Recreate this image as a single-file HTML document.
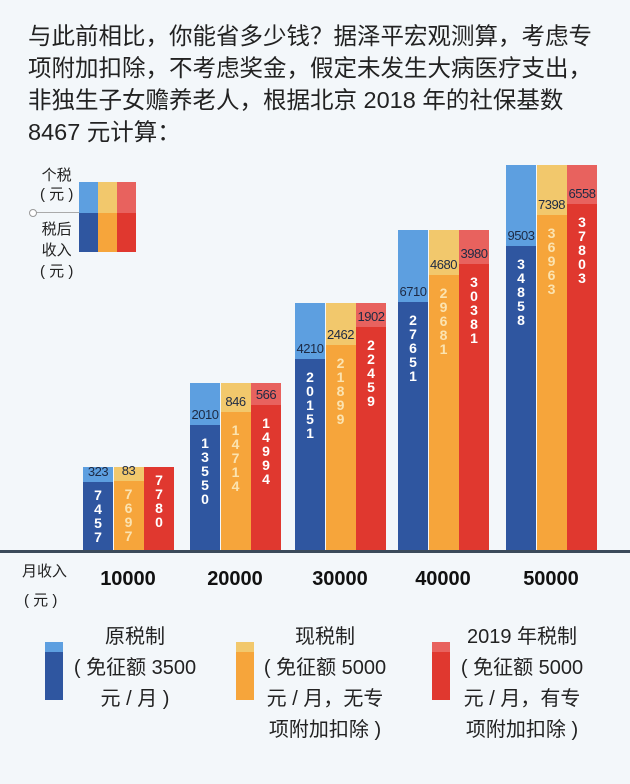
<!DOCTYPE html>
<html><head><meta charset="utf-8"><style>
body{margin:0;width:630px;height:784px;background:#f3f7fa;font-family:"Liberation Sans","Noto Sans CJK SC",sans-serif;position:relative;overflow:hidden;color:#222}
.t{position:absolute;left:28px;top:20px;font-size:23.5px;line-height:32px;color:#222;white-space:nowrap}
.a{position:absolute}
.b{position:absolute;width:30px}
.lab{position:absolute;width:30px;text-align:center;font-size:13px;color:#1d2a44;letter-spacing:-0.5px}
.v{position:absolute;width:30px;text-align:center;font-size:14px;font-weight:bold;line-height:14px;color:#fff}
.xl{position:absolute;font-size:20px;font-weight:bold;top:568px;width:100px;text-align:center;color:#111}
.lg{position:absolute;font-size:20px;line-height:31px;text-align:center;color:#222;white-space:nowrap}
</style></head><body>
<div class="t">与此前相比，你能省多少钱？据泽平宏观测算，考虑专<br>项附加扣除，不考虑奖金，假定未发生大病医疗支出，<br>非独生子女赡养老人，根据北京 2018 年的社保基数<br>8467 元计算：</div>

<div class="a" style="left:40px;top:166px;font-size:15px;line-height:19px;color:#222;text-align:center">个税<br>( 元 )</div>
<div class="a" style="left:40px;top:219px;font-size:15px;line-height:21px;color:#222;text-align:center">税后<br>收入<br>( 元 )</div>
<div class="a" style="left:34px;top:212px;width:45px;height:1px;background:#aaa"></div>
<div class="a" style="left:29px;top:209px;width:6px;height:6px;border:1px solid #999;border-radius:50%;background:#fff"></div>
<div class="a" style="left:79px;top:182px;width:19px;height:31px;background:#5d9fe0"></div>
<div class="a" style="left:79px;top:213px;width:19px;height:39px;background:#2f56a0"></div>
<div class="a" style="left:98px;top:182px;width:19px;height:31px;background:#f2c86c"></div>
<div class="a" style="left:98px;top:213px;width:19px;height:39px;background:#f6a53b"></div>
<div class="a" style="left:117px;top:182px;width:19px;height:31px;background:#e8625e"></div>
<div class="a" style="left:117px;top:213px;width:19px;height:39px;background:#e0382f"></div>

<div id="bars"></div>
<div class="a" style="left:0;top:550px;width:630px;height:3px;background:#3b4a5a"></div>

<div class="a" style="left:22px;top:560px;font-size:15px;color:#222">月收入</div>
<div class="a" style="left:24px;top:589px;font-size:15px;color:#222">( 元 )</div>
<div class="xl" style="left:78px">10000</div>
<div class="xl" style="left:185px">20000</div>
<div class="xl" style="left:290px">30000</div>
<div class="xl" style="left:393px">40000</div>
<div class="xl" style="left:501px">50000</div>

<div class="a" style="left:45px;top:642px;width:18px;height:10px;background:#5d9fe0"></div>
<div class="a" style="left:45px;top:652px;width:18px;height:48px;background:#2f56a0"></div>
<div class="lg" style="left:68px;top:622px;width:134px">原税制<br>( 免征额 3500<br>元 / 月 )</div>
<div class="a" style="left:236px;top:642px;width:18px;height:10px;background:#f2c86c"></div>
<div class="a" style="left:236px;top:652px;width:18px;height:48px;background:#f6a53b"></div>
<div class="lg" style="left:258px;top:622px;width:134px">现税制<br>( 免征额 5000<br>元 / 月，无专<br>项附加扣除 )</div>
<div class="a" style="left:432px;top:642px;width:18px;height:10px;background:#e8625e"></div>
<div class="a" style="left:432px;top:652px;width:18px;height:48px;background:#e0382f"></div>
<div class="lg" style="left:455px;top:622px;width:134px">2019 年税制<br>( 免征额 5000<br>元 / 月，有专<br>项附加扣除 )</div>

<script>
var base=551;
var G=[
 {x:83,top:467,s:[482,481,467],tax:["323","83",""],net:["7457","7697","7780"]},
 {x:190,top:383,s:[425,412,405],tax:["2010","846","566"],net:["13550","14714","14994"]},
 {x:295,top:303,s:[359,345,327],tax:["4210","2462","1902"],net:["20151","21899","22459"]},
 {x:398,top:230,s:[302,275,264],tax:["6710","4680","3980"],net:["27651","29681","30381"]},
 {x:506,top:165,s:[246,215,204],tax:["9503","7398","6558"],net:["34858","36963","37803"]}];
var lc=["#5d9fe0","#f2c86c","#e8625e"],dc=["#2f56a0","#f6a53b","#e0382f"],tc=["#fff","#fbe3b0","#fff"];
var h="";
G.forEach(function(g){for(var i=0;i<3;i++){var x=g.x+i*30.5,s=g.s[i];
h+='<div class="b" style="left:'+x+'px;top:'+g.top+'px;height:'+(s-g.top)+'px;background:'+lc[i]+'"></div>';
h+='<div class="b" style="left:'+x+'px;top:'+s+'px;height:'+(base-s)+'px;background:'+dc[i]+'"></div>';
if(g.tax[i])h+='<div class="lab" style="left:'+x+'px;top:'+(s-18)+'px">'+g.tax[i]+'</div>';
var off=(g.x==83)?6:11;
h+='<div class="v" style="left:'+x+'px;top:'+(s+off)+'px;color:'+tc[i]+'">'+g.net[i].split("").join("<br>")+'</div>';}});
document.getElementById("bars").innerHTML=h;
</script>
</body></html>
